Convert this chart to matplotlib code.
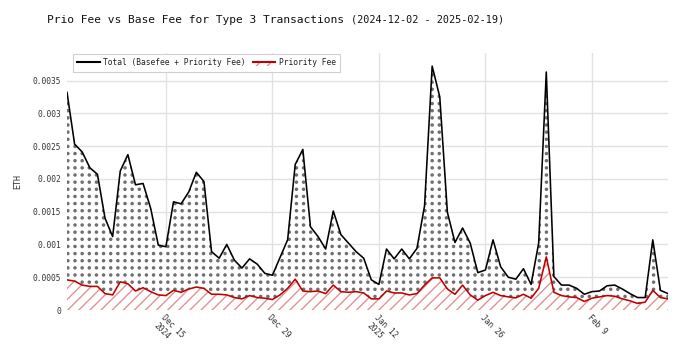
import numpy as np
import pandas as pd
import matplotlib
matplotlib.use("Agg")
import matplotlib.pyplot as plt
import matplotlib.hatch as mhatch
from matplotlib.path import Path
from matplotlib.patches import Rectangle, Patch
from matplotlib.lines import Line2D
from matplotlib.legend_handler import HandlerBase

# ---------------- data ----------------
start_date = "2024-12-02"
end_date = "2025-02-19"
total_fee = [3.32, 2.53, 2.41, 2.17, 2.07, 1.40, 1.12, 2.12, 2.37, 1.91,
             1.93, 1.55, 0.99, 0.965, 1.65, 1.62, 1.80, 2.10, 1.96, 0.89,
             0.79, 1.00, 0.76, 0.64, 0.78, 0.70, 0.56, 0.53, 0.80, 1.07,
             2.22, 2.45, 1.27, 1.12, 0.93, 1.51, 1.15, 1.02, 0.89, 0.79,
             0.46, 0.39, 0.93, 0.78, 0.93, 0.78, 0.94, 1.59, 3.72, 3.25,
             1.49, 1.03, 1.25, 1.02, 0.57, 0.61, 1.07, 0.66, 0.50, 0.47,
             0.63, 0.39, 1.02, 3.63, 0.51, 0.38, 0.38, 0.33, 0.24, 0.28,
             0.29, 0.37, 0.38, 0.32, 0.25, 0.19, 0.19, 1.07, 0.30, 0.25]
priority_fee = [0.46, 0.44, 0.38, 0.36, 0.36, 0.25, 0.23, 0.43, 0.40, 0.29,
                0.34, 0.28, 0.23, 0.22, 0.30, 0.27, 0.32, 0.35, 0.33, 0.24,
                0.24, 0.23, 0.19, 0.17, 0.22, 0.19, 0.18, 0.16, 0.23, 0.33,
                0.47, 0.29, 0.28, 0.29, 0.25, 0.38, 0.28, 0.27, 0.28, 0.26,
                0.17, 0.17, 0.29, 0.26, 0.26, 0.23, 0.25, 0.38, 0.49, 0.49,
                0.32, 0.24, 0.38, 0.23, 0.15, 0.22, 0.27, 0.22, 0.20, 0.185,
                0.24, 0.18, 0.33, 0.81, 0.27, 0.22, 0.20, 0.19, 0.13, 0.18,
                0.20, 0.22, 0.21, 0.17, 0.14, 0.10, 0.12, 0.30, 0.19, 0.17]
value_scale = 1e-3  # values above are in units of 0.001 ETH
tick_dates = ["2024-12-15", "2024-12-29", "2025-01-12", "2025-01-26", "2025-02-09"]
tick_labels = ["Dec 15\n2024", "Dec 29", "Jan 12\n2025", "Jan 26", "Feb 9"]
y_ticks = [0, 0.0005, 0.001, 0.0015, 0.002, 0.0025, 0.003, 0.0035]
y_tick_labels = ["0", "0.0005", "0.001", "0.0015", "0.002", "0.0025", "0.003", "0.0035"]
title_main = "Prio Fee vs Base Fee for Type 3 Transactions"
title_sub = "(2024-12-02 - 2025-02-19)"
legend_labels = ["Total (Basefee + Priority Fee)", "Priority Fee"]

dates = pd.date_range(start_date, end_date, freq="D")
total = np.array(total_fee) * value_scale
prio = np.array(priority_fee) * value_scale


# ---------------- custom hatch patterns ----------------
class GridDots(mhatch.HatchPatternBase):
    """Square grid of filled dots, triggered by '.'"""
    def __init__(self, hatch, density):
        self.n = 14 if "." in hatch else 0
        circ = Path.unit_circle()
        self.cv = circ.vertices
        self.cc = circ.codes
        self.num_vertices = self.n * self.n * len(self.cv)

    def set_vertices_and_codes(self, vertices, codes):
        r = 0.0105
        vparts, cparts = [], []
        for i in range(self.n):
            for j in range(self.n):
                vparts.append(self.cv * r + [(i + 0.5) / self.n, (j + 0.5) / self.n])
                cparts.append(self.cc)
        np.concatenate(vparts, out=vertices)
        np.concatenate(cparts, out=codes)


class Diag(mhatch.HatchPatternBase):
    """Diagonal '/' lines with custom spacing"""
    def __init__(self, hatch, density):
        self.m = 9 if "/" in hatch else 0
        self.num_vertices = (2 * self.m + 1) * 2 if self.m else 0

    def set_vertices_and_codes(self, vertices, codes):
        ks = np.arange(-self.m, self.m + 1) / self.m
        vertices[0::2, 0] = ks
        vertices[0::2, 1] = 0.0
        vertices[1::2, 0] = ks + 1.0
        vertices[1::2, 1] = 1.0
        codes[0::2] = Path.MOVETO
        codes[1::2] = Path.LINETO


mhatch._hatch_types = [h for h in mhatch._hatch_types
                       if h not in (mhatch.SmallFilledCircles, mhatch.NorthEastHatch)]
mhatch._hatch_types += [GridDots, Diag]

# ---------------- style ----------------
MONO = ["DejaVu Sans Mono"]
plt.rcParams["font.family"] = MONO
plt.rcParams["hatch.linewidth"] = 1.0

DOT_COLOR = "#6f6f6f"
RED_LINE = "#c00000"
RED_HATCH = "#e39393"
GRID = "#e2e2e2"

fig = plt.figure(figsize=(6.9, 3.47), dpi=100)
W, H = 690, 347
ax_left, ax_right, ax_top, ax_bottom = 67, 668, 53, 310
ax = fig.add_axes([ax_left / W, 1 - ax_bottom / H,
                   (ax_right - ax_left) / W, (ax_bottom - ax_top) / H])

ax.fill_between(dates, prio, total, facecolor="white", edgecolor=DOT_COLOR,
                hatch=".", linewidth=0, zorder=2)
ax.fill_between(dates, 0, prio, facecolor="white", edgecolor=RED_HATCH,
                hatch="/", linewidth=0, zorder=2)
ax.plot(dates, total, color="black", linewidth=1.15, zorder=4)
ax.plot(dates, prio, color=RED_LINE, linewidth=1.15, zorder=4)

ax.set_xlim(dates[0], dates[-1])
ax.set_ylim(0, 0.00392)
ax.set_yticks(y_ticks)
ax.set_yticklabels(y_tick_labels)
ax.set_xticks(pd.to_datetime(tick_dates))
ax.set_xticklabels(tick_labels)
ax.tick_params(axis="both", length=0, labelsize=5.65, colors="#333333")
ax.tick_params(axis="y", pad=4)
ax.tick_params(axis="x", pad=2.5)
for lab in ax.get_xticklabels():
    lab.set_rotation(-45)
    lab.set_rotation_mode("anchor")
    lab.set_ha("left")
    lab.set_va("top")
    lab.set_multialignment("left")

ax.grid(True, color=GRID, linewidth=1.0)
ax.set_axisbelow(True)
for s in ax.spines.values():
    s.set_visible(False)

ax.set_ylabel("ETH", fontsize=6, color="#333333")
ax.yaxis.set_label_coords((22 - ax_left) / (ax_right - ax_left), 0.5)


# ---------------- legend ----------------
class FillLineHandler(HandlerBase):
    def __init__(self, line_color, **kw):
        super().__init__(**kw)
        self.line_color = line_color

    def create_artists(self, legend, orig_handle, xdescent, ydescent,
                       width, height, fontsize, trans):
        rect = Rectangle((-xdescent, -ydescent), width, height * 0.55,
                         facecolor="white", edgecolor=orig_handle.get_edgecolor(),
                         hatch=orig_handle.get_hatch(), linewidth=0, transform=trans)
        line = Line2D([-xdescent, -xdescent + width],
                      [-ydescent + height * 0.62] * 2,
                      color=self.line_color, linewidth=1.5, transform=trans)
        return [rect, line]


h1 = Patch(facecolor="white", edgecolor=DOT_COLOR, hatch=".")
h2 = Patch(facecolor="white", edgecolor=RED_HATCH, hatch="/")
leg = ax.legend([h1, h2], legend_labels,
                handler_map={h1: FillLineHandler("black"), h2: FillLineHandler(RED_LINE)},
                loc="upper left",
                bbox_to_anchor=((73 - ax_left) / (ax_right - ax_left), 1 - 1 / (ax_bottom - ax_top)),
                borderaxespad=0, ncol=2, fontsize=5.65, frameon=True, fancybox=False,
                edgecolor="#d0d0d0", framealpha=1, handlelength=2.9, handletextpad=0.42,
                columnspacing=0.85, borderpad=0.55, handleheight=0.9)
leg.get_frame().set_linewidth(0.8)
for t in leg.get_texts():
    t.set_color("#222222")

# ---------------- title ----------------
fig.text(47 / W, 1 - 20 / H, title_main, fontsize=8.1, va="center", ha="left",
         color="#111111", family=MONO)
fig.text(351 / W, 1 - 20 / H, title_sub, fontsize=7.3, va="center", ha="left",
         color="#111111", family=MONO)

fig.savefig("out.png", dpi=100)
